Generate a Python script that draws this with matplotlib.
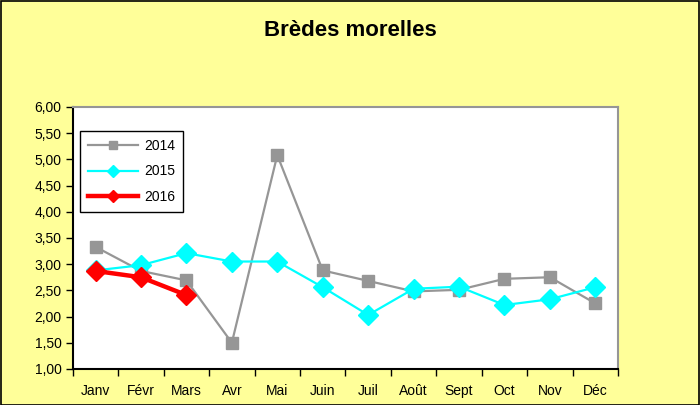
import numpy as np
import matplotlib.pyplot as plt
from matplotlib.ticker import FixedLocator, FuncFormatter
from matplotlib.patches import Rectangle

plt.rcParams['font.family'] = ['Liberation Sans', 'DejaVu Sans']

mois = ['Janv', 'Févr', 'Mars', 'Avr', 'Mai', 'Juin', 'Juil',
        'Août', 'Sept', 'Oct', 'Nov', 'Déc']
prix_2014 = [3.33, 2.87, 2.69, 1.50, 5.08, 2.88, 2.68, 2.48, 2.51, 2.72, 2.75, 2.25]
prix_2015 = [2.88, 2.98, 3.21, 3.05, 3.05, 2.56, 2.03, 2.53, 2.57, 2.22, 2.33, 2.56]
prix_2016 = [2.87, 2.75, 2.41]

fond = '#FFFF99'
fig = plt.figure(figsize=(7, 4.05), dpi=100, facecolor=fond)
fig.patches.append(Rectangle((0.001, 0.001), 0.997, 0.997, transform=fig.transFigure,
                             fill=False, edgecolor='black', linewidth=1.2))
ax = fig.add_axes([0.104, 0.089, 0.779, 0.647])
ax.set_facecolor('white')

x = np.arange(len(mois))
ax.plot(x, prix_2014, color='#969696', lw=1.6, marker='s', ms=8,
        mfc='#969696', mec='#969696', label='2014', zorder=2)
ax.plot(x, prix_2015, color='#00FFFF', lw=1.6, marker='D', ms=10,
        mfc='#00FFFF', mec='#00FFFF', label='2015', zorder=3)
ax.plot(x[:len(prix_2016)], prix_2016, color='#FF0000', lw=3.2, marker='D', ms=10,
        mfc='#FF0000', mec='#FF0000', label='2016', zorder=4)

ax.set_xlim(-0.5, len(mois) - 0.5)
ax.set_ylim(1, 6)
ax.set_yticks(np.arange(1, 6.01, 0.5))
ax.yaxis.set_major_formatter(FuncFormatter(lambda v, p: f'{v:.2f}'.replace('.', ',')))
ax.set_xticks(x)
ax.set_xticklabels(mois)
ax.xaxis.set_minor_locator(FixedLocator(np.arange(-0.5, len(mois), 1)))
ax.tick_params(axis='x', which='major', length=0, pad=11, labelsize=10)
ax.tick_params(axis='x', which='minor', length=5, direction='out', width=1)
ax.tick_params(axis='y', length=5, direction='out', width=1, labelsize=10, pad=3)

for s in ['left', 'bottom']:
    ax.spines[s].set_color('black')
    ax.spines[s].set_linewidth(1.5)
for s in ['top', 'right']:
    ax.spines[s].set_color('#969696')
    ax.spines[s].set_linewidth(1.5)

leg = ax.legend(loc='upper left', bbox_to_anchor=(0.013, 0.908), borderaxespad=0,
                fontsize=10, frameon=True, fancybox=False, edgecolor='black',
                framealpha=1, handlelength=3.6, handletextpad=0.5, markerscale=0.65,
                borderpad=0.55, labelspacing=0.85)
leg.get_frame().set_linewidth(1)

fig.text(0.5, 0.925, 'Brèdes morelles', ha='center', va='center',
         fontsize=16, fontweight='bold')

fig.savefig('out.png', dpi=100, facecolor=fond)
